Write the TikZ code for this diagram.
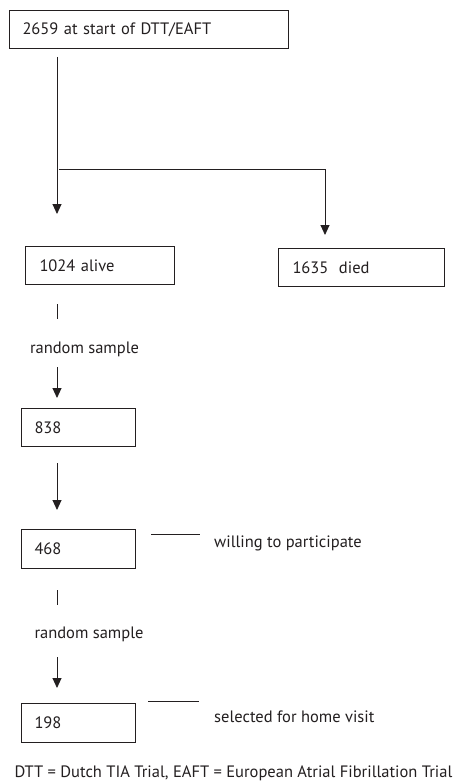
\documentclass[tikz,border=0pt]{standalone}
\usepackage{fontspec}
\setmainfont{PT Sans}
\usetikzlibrary{arrows.meta}
\definecolor{ink}{HTML}{231F20}
\tikzset{
  box/.style={draw=ink, line width=1pt, anchor=north west, inner ysep=0pt, align=left, text=ink, font=\fontsize{16.5}{18}\selectfont},
  lbl/.style={text=ink, inner sep=0pt, font=\fontsize{16.5}{18}\selectfont},
  conn/.style={draw=ink, line width=0.9pt},
  arr/.style={conn, -{Triangle[width=9pt,length=10pt]}}
}
\begin{document}
\begin{tikzpicture}[x=1pt,y=-1pt]
\useasboundingbox[fill=white] (0,0) rectangle (460,784);
% boxes
\node[box, minimum width=279pt, minimum height=38pt, inner xsep=13pt, text width=253pt] (start) at (9,10) {2659 at start of DTT/EAFT};
\node[box, minimum width=149pt, minimum height=38pt, inner xsep=14pt, text width=121pt] (alive) at (25,246) {1024 alive};
\node[box, minimum width=166pt, minimum height=38pt, inner xsep=14pt, text width=138pt] (died) at (278,248) {1635\hspace{5pt} died};
\node[box, minimum width=114pt, minimum height=38pt, inner xsep=13pt, text width=88pt] (n838) at (21,408) {838};
\node[box, minimum width=114pt, minimum height=39pt, inner xsep=13pt, text width=88pt] (n468) at (21,529) {468};
\node[box, minimum width=114pt, minimum height=39pt, inner xsep=13pt, text width=88pt] (n198) at (21,703) {198};
% labels
\node[lbl] (rs1) at (84.5,349) {random sample};
\node[lbl] (rs2) at (89,634) {random sample};
\node[lbl, anchor=west] (will) at (214,543) {willing to participate};
\node[lbl, anchor=west] (home) at (214,717) {selected for home visit};
\node[lbl] (foot) at (233.5,773) {DTT = Dutch TIA Trial, EAFT = European Atrial Fibrillation Trial};
% coordinates
\coordinate (s0) at (57,57);
\coordinate (s1) at (57,214);
\coordinate (b0) at (59,169);
\coordinate (b1) at (325,169);
\coordinate (b2) at (325,235);
\coordinate (t0) at (57,304);
\coordinate (t1) at (57,319);
\coordinate (u0) at (57,367);
\coordinate (u1) at (57,398);
\coordinate (v0) at (57,463);
\coordinate (v1) at (57,510);
\coordinate (w0) at (57,590);
\coordinate (w1) at (57,605);
\coordinate (x0) at (57,657);
\coordinate (x1) at (57,688);
\coordinate (y0) at (151,534);
\coordinate (y1) at (200,534);
\coordinate (z0) at (148,701);
\coordinate (z1) at (199,701);
% connectors
\draw[arr] (s0) -- (s1);
\draw[arr] (b0) -- (b1) -- (b2);
\draw[conn] (t0) -- (t1);
\draw[arr] (u0) -- (u1);
\draw[arr] (v0) -- (v1);
\draw[conn] (w0) -- (w1);
\draw[arr] (x0) -- (x1);
\draw[conn] (y0) -- (y1);
\draw[conn] (z0) -- (z1);
\end{tikzpicture}
\end{document}
